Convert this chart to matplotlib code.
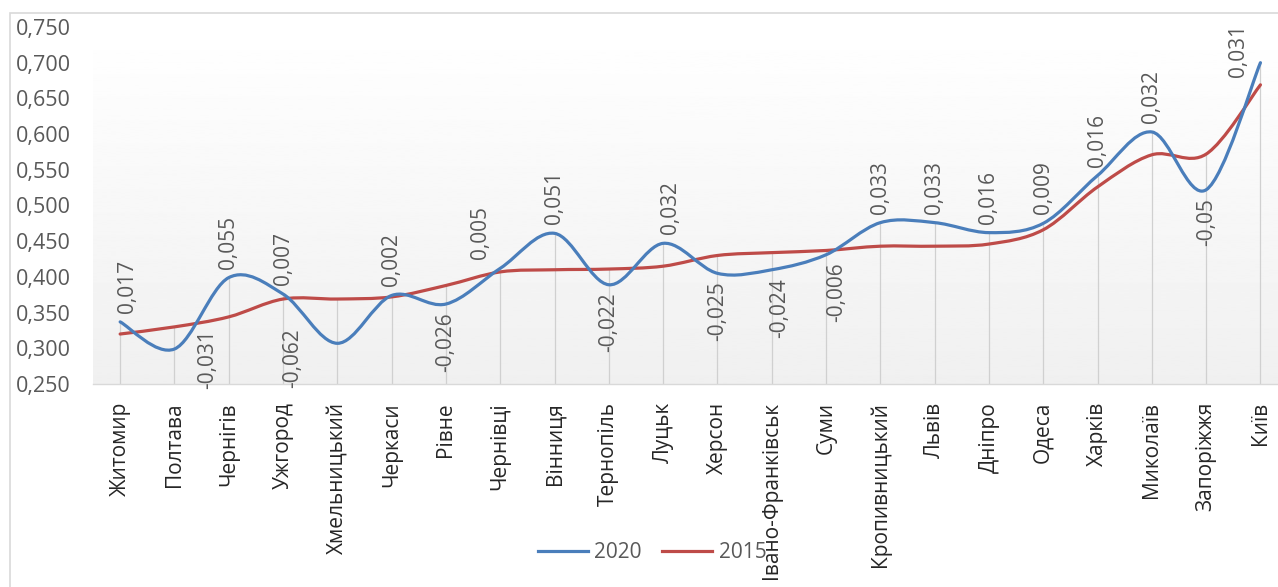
import numpy as np
import matplotlib
matplotlib.use("Agg")
import matplotlib.pyplot as plt
from matplotlib.path import Path
from matplotlib.patches import PathPatch, Rectangle
from matplotlib.lines import Line2D
from matplotlib.ticker import FuncFormatter

plt.rcParams['font.family'] = ['Open Sans', 'DejaVu Sans']

# data
cities = ["Житомир", "Полтава", "Чернігів", "Ужгород", "Хмельницький", "Черкаси",
          "Рівне", "Чернівці", "Вінниця", "Тернопіль", "Луцьк", "Херсон",
          "Івано-Франківськ", "Суми", "Кропивницький", "Львів", "Дніпро", "Одеса",
          "Харків", "Миколаїв", "Запоріжжя", "Київ"]
val_2020 = [0.337, 0.299, 0.399, 0.376, 0.307, 0.374, 0.362, 0.412, 0.461, 0.389, 0.447,
            0.405, 0.410, 0.431, 0.476, 0.476, 0.462, 0.475, 0.542, 0.603, 0.522, 0.700]
val_2015 = [0.320, 0.330, 0.344, 0.369, 0.369, 0.372, 0.388, 0.407, 0.410, 0.411, 0.415,
            0.430, 0.434, 0.437, 0.443, 0.443, 0.446, 0.466, 0.526, 0.571, 0.572, 0.669]
diff_labels = ["0,017", "-0,031", "0,055", "0,007", "-0,062", "0,002", "-0,026", "0,005",
               "0,051", "-0,022", "0,032", "-0,025", "-0,024", "-0,006", "0,033", "0,033",
               "0,016", "0,009", "0,016", "0,032", "-0,05", "0,031"]
yticks = [0.25, 0.30, 0.35, 0.40, 0.45, 0.50, 0.55, 0.60, 0.65, 0.70, 0.75]

# labels that were dragged by hand in the original (pixel nudges)
label_nudge = {"Житомир": (7, 0), "Полтава": (33, 28), "Хмельницький": (-45, 23),
               "Чернівці": (-20, 0), "Суми": (11, 0), "Івано-Франківськ": (8, 0),
               "Луцьк": (7, 0), "Київ": (-22, -23)}

BLUE = "#4a7ebb"
RED = "#be4b48"


def smooth_path(xs, ys):
    # excel-like smoothed line: cubic bezier through every point
    p = np.column_stack([xs, ys])
    n = len(p)
    verts = [p[0]]
    codes = [Path.MOVETO]
    for i in range(n - 1):
        prev = p[max(i - 1, 0)]
        nxt = p[min(i + 2, n - 1)]
        c1 = p[i] + (p[i + 1] - prev) / 6
        c2 = p[i + 1] - (nxt - p[i]) / 6
        verts += [c1, c2, p[i + 1]]
        codes += [Path.CURVE4] * 3
    return Path(verts, codes)


fig = plt.figure(figsize=(12.78, 5.87), dpi=100)
W, H = 1278, 587

# outer chart border (cropped on right and bottom)
fig.patches.append(Rectangle((10 / W, -0.1), 1.2, 1 - 13 / H + 0.1, transform=fig.transFigure,
                             fill=False, edgecolor="#d9d9d9", lw=1.2))

ax = fig.add_axes([93 / W, (H - 384) / H, 1194.6 / W, 357 / H])
x = np.arange(len(cities))
ax.set_xlim(-0.5, len(cities) - 0.5)
ax.set_ylim(0.25, 0.75)

# gradient background
grad = np.linspace(0.94, 1.0, 256).reshape(-1, 1)
ax.imshow(grad, extent=[0, 1, 0, 1], transform=ax.transAxes, origin="lower",
          cmap="gray", vmin=0, vmax=1, aspect="auto", zorder=0)

# drop lines
tops = np.maximum(val_2020, val_2015)
ax.vlines(x, 0.25, tops, color="#d0d0d0", lw=0.9, zorder=1)

ax.add_patch(PathPatch(smooth_path(x, val_2015), fill=False, edgecolor=RED, lw=2.3,
                       capstyle="round", zorder=3))
ax.add_patch(PathPatch(smooth_path(x, val_2020), fill=False, edgecolor=BLUE, lw=2.3,
                       capstyle="round", zorder=4))

for xi, yi, lab, city in zip(x, val_2020, diff_labels, cities):
    dx, dy = label_nudge.get(city, (0, 0))
    if lab.startswith("-"):
        ax.annotate(lab, (xi, yi), xytext=(dx, -8 + dy), textcoords="offset pixels",
                    rotation=90, ha="center", va="top", fontsize=15, color="#595959",
                    annotation_clip=False)
    else:
        ax.annotate(lab, (xi, yi), xytext=(dx, 9 + dy), textcoords="offset pixels",
                    rotation=90, ha="center", va="bottom", fontsize=15, color="#595959",
                    annotation_clip=False)

ax.set_yticks(yticks)
ax.yaxis.set_major_formatter(FuncFormatter(lambda v, p: f"{v:.3f}".replace(".", ",")))
ax.set_xticks(x)
ax.set_xticklabels(cities, rotation=90, fontsize=15, color="#262626")
ax.tick_params(axis="x", length=0, pad=13)
ax.tick_params(axis="y", length=0, pad=16, labelsize=15.5, labelcolor="#595959")
for s in ["left", "right", "top"]:
    ax.spines[s].set_visible(False)
ax.spines["bottom"].set_color("#d9d9d9")
ax.spines["bottom"].set_linewidth(1.0)

handles = [Line2D([], [], color=BLUE, lw=2.3), Line2D([], [], color=RED, lw=2.3)]
fig.legend(handles, ["2020", "2015"], loc="center", bbox_to_anchor=(652 / W, 1 - 553 / H),
           ncol=2, frameon=False, fontsize=15, labelcolor="#595959",
           handlelength=2.4, handletextpad=0.3, columnspacing=1.0)

fig.savefig("out.png", dpi=100)
